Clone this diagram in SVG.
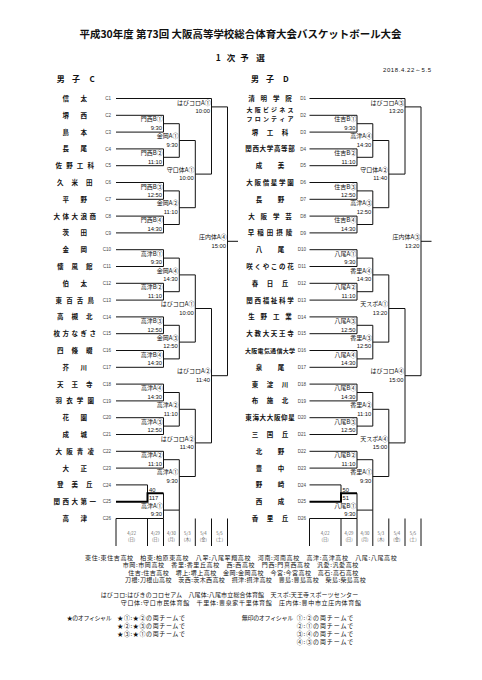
<svg xmlns="http://www.w3.org/2000/svg" width="482" height="680" viewBox="0 0 482 680">
<style>
text{font-family:"Noto Sans CJK JP","Noto Sans CJK SC",sans-serif;fill:#111}
.ttl{font-size:10.5px;font-weight:bold;text-anchor:middle}
.sub{font-size:8.5px;font-weight:bold;text-anchor:middle}
.hd{font-size:8px;font-weight:bold;text-anchor:middle}
.nm{font-size:6.5px;font-weight:bold;text-anchor:middle}
.nm6{font-size:6px;font-weight:bold;text-anchor:middle}
.cd{font-family:"Liberation Sans",sans-serif;font-size:4.5px;text-anchor:end;fill:#444}
.lb{font-size:6px;text-anchor:end}
.tm{font-family:"Liberation Sans",sans-serif;font-size:5.8px;text-anchor:end}
.sc{font-family:"Liberation Sans",sans-serif;font-size:5.8px}
.dt{font-size:4.3px;text-anchor:middle;fill:#666}
.lg{font-size:6px}
.ln{fill:none;stroke:#111;stroke-width:1}
.tk{fill:none;stroke:#000;stroke-width:2}
</style>
<rect width="482" height="680" fill="#fff"/>
<text class="ttl" x="240.5" y="38" textLength="322" lengthAdjust="spacingAndGlyphs">平成30年度 第73回 大阪高等学校総合体育大会バスケットボール大会</text>
<text class="sub" x="218.3 231 244.5 260.5" y="60.5">1次予選</text>
<text style="font-family:'Liberation Sans',sans-serif;font-size:6px" x="383" y="72" textLength="48">2018.4.22～5.5</text>
<text class="hd" x="60.7 76 92.2" y="81.5">男子C</text>
<text class="hd" x="255 270 285.8" y="81.5">男子D</text>

<g id="connectors">
<g id="conn-C">
<path class="ln" d="M116 98.5H211.5M116 115.3H163.5M116 132.1H163.5M116 148.9H163.5M116 165.7H163.5M116 182.5H163.5M116 199.3H163.5M116 216.1H163.5M116 232.9H163.5M116 249.7H163.5M116 266.5H163.5M116 283.3H163.5M116 300.1H163.5M116 316.9H163.5M116 333.7H163.5M116 350.5H163.5M116 367.3H163.5M116 384.1H163.5M116 400.9H163.5M116 417.7H163.5M116 434.5H163.5M116 451.3H163.5M116 468.1H163.5M116 484.9H147.5M116 518.5H163.5
M147.5 484.9V493.3
M163.5 115.3V132.1M163.5 148.9V165.7M163.5 182.5V199.3M163.5 216.1V232.9M163.5 249.7V266.5M163.5 283.3V300.1M163.5 316.9V333.7M163.5 350.5V367.3M163.5 384.1V400.9M163.5 417.7V434.5M163.5 451.3V468.1M163.5 493.3V518.5
M163.5 123.7H179.3M163.5 157.3H179.3M163.5 190.9H179.3M163.5 224.5H179.3M163.5 258.1H179.3M163.5 291.7H179.3M163.5 325.3H179.3M163.5 358.9H179.3M163.5 392.5H179.3M163.5 426.1H179.3M163.5 459.7H179.3M163.5 510.1H179.3
M179.3 123.7V157.3M179.3 190.9V224.5M179.3 258.1V291.7M179.3 325.3V358.9M179.3 392.5V426.1M179.3 459.7V510.1
M179.3 140.5H195.3M179.3 207.7H195.3M179.3 274.9H195.3M179.3 342.1H195.3M179.3 409.3H195.3M179.3 476.5H195.3
M195.3 140.5V207.7M195.3 274.9V342.1M195.3 409.3V476.5
M195.3 174.1H211.5M195.3 308.5H211.5M195.3 442.9H211.5
M211.5 98.5V174.1M211.5 308.5V442.9
M211.5 106.9H227.5M211.5 375.7H227.5
M227.5 106.9V375.7M227.5 241.3H238
M116 518.5V546M147.5 518.5V546M163.5 518.5V546M179.3 510.1V546M195.3 518.5V546M211.5 518.5V546M227.5 518.5V546"/>
<path class="tk" d="M116 501.7H147.5V493.3H163.5"/>
</g>
<g id="conn-D" transform="translate(193.5 0)">
<path class="ln" d="M116 98.5H211.5M116 115.3H163.5M116 132.1H163.5M116 148.9H163.5M116 165.7H163.5M116 182.5H163.5M116 199.3H163.5M116 216.1H163.5M116 232.9H163.5M116 249.7H163.5M116 266.5H163.5M116 283.3H163.5M116 300.1H163.5M116 316.9H163.5M116 333.7H163.5M116 350.5H163.5M116 367.3H163.5M116 384.1H163.5M116 400.9H163.5M116 417.7H163.5M116 434.5H163.5M116 451.3H163.5M116 468.1H163.5M116 484.9H147.5M116 518.5H163.5
M147.5 484.9V493.3
M163.5 115.3V132.1M163.5 148.9V165.7M163.5 182.5V199.3M163.5 216.1V232.9M163.5 249.7V266.5M163.5 283.3V300.1M163.5 316.9V333.7M163.5 350.5V367.3M163.5 384.1V400.9M163.5 417.7V434.5M163.5 451.3V468.1M163.5 493.3V518.5
M163.5 123.7H179.3M163.5 157.3H179.3M163.5 190.9H179.3M163.5 224.5H179.3M163.5 258.1H179.3M163.5 291.7H179.3M163.5 325.3H179.3M163.5 358.9H179.3M163.5 392.5H179.3M163.5 426.1H179.3M163.5 459.7H179.3M163.5 510.1H179.3
M179.3 123.7V157.3M179.3 190.9V224.5M179.3 258.1V291.7M179.3 325.3V358.9M179.3 392.5V426.1M179.3 459.7V510.1
M179.3 140.5H195.3M179.3 207.7H195.3M179.3 274.9H195.3M179.3 342.1H195.3M179.3 409.3H195.3M179.3 476.5H195.3
M195.3 140.5V207.7M195.3 274.9V342.1M195.3 409.3V476.5
M195.3 174.1H211.5M195.3 308.5H211.5M195.3 442.9H211.5
M211.5 98.5V174.1M211.5 308.5V442.9
M211.5 106.9H227.5M211.5 375.7H227.5
M227.5 106.9V375.7M227.5 241.3H238
M116 518.5V546M147.5 518.5V546M163.5 518.5V546M179.3 510.1V546M195.3 518.5V546M211.5 518.5V546M227.5 518.5V546"/>
<path class="tk" d="M116 501.7H147.5V493.3H163.5"/>
</g>
</g>

<g id="teams-C">
<g id="C1"><text class="nm" x="65.7 83.7" y="100.9">信太</text><text class="cd" x="111" y="100.1">C1</text></g>
<g id="C2"><text class="nm" x="65.7 83.7" y="117.7">堺西</text><text class="cd" x="111" y="116.9">C2</text></g>
<g id="C3"><text class="nm" x="65.7 83.7" y="134.5">島本</text><text class="cd" x="111" y="133.7">C3</text></g>
<g id="C4"><text class="nm" x="65.7 83.7" y="151.3">長尾</text><text class="cd" x="111" y="150.5">C4</text></g>
<g id="C5"><text class="nm" x="58.7 69.4 80 90.7" y="168.1">佐野工科</text><text class="cd" x="111" y="167.3">C5</text></g>
<g id="C6"><text class="nm" x="60.2 74.7 89.2" y="184.9">久米田</text><text class="cd" x="111" y="184.1">C6</text></g>
<g id="C7"><text class="nm" x="65.7 83.7" y="201.7">平野</text><text class="cd" x="111" y="200.9">C7</text></g>
<g id="C8"><text class="nm" x="56.7 65.7 74.7 83.7 92.7" y="218.5">大体大浪商</text><text class="cd" x="111" y="217.7">C8</text></g>
<g id="C9"><text class="nm" x="65.7 83.7" y="235.3">茨田</text><text class="cd" x="111" y="234.5">C9</text></g>
<g id="C10"><text class="nm" x="65.7 83.7" y="252.1">金岡</text><text class="cd" x="111" y="251.3">C10</text></g>
<g id="C11"><text class="nm" x="60.2 74.7 89.2" y="268.9">懐風館</text><text class="cd" x="111" y="268.1">C11</text></g>
<g id="C12"><text class="nm" x="65.7 83.7" y="285.7">伯太</text><text class="cd" x="111" y="284.9">C12</text></g>
<g id="C13"><text class="nm" x="58.7 69.4 80 90.7" y="302.5">東百舌鳥</text><text class="cd" x="111" y="301.7">C13</text></g>
<g id="C14"><text class="nm" x="60.2 74.7 89.2" y="319.3">高槻北</text><text class="cd" x="111" y="318.5">C14</text></g>
<g id="C15"><text class="nm" x="56.7 65.7 74.7 83.7 92.7" y="336.1">枚方なぎさ</text><text class="cd" x="111" y="335.3">C15</text></g>
<g id="C16"><text class="nm" x="60.2 74.7 89.2" y="352.9">四條畷</text><text class="cd" x="111" y="352.1">C16</text></g>
<g id="C17"><text class="nm" x="65.7 83.7" y="369.7">芥川</text><text class="cd" x="111" y="368.9">C17</text></g>
<g id="C18"><text class="nm" x="60.2 74.7 89.2" y="386.5">天王寺</text><text class="cd" x="111" y="385.7">C18</text></g>
<g id="C19"><text class="nm" x="58.7 69.4 80 90.7" y="403.3">羽衣学園</text><text class="cd" x="111" y="402.5">C19</text></g>
<g id="C20"><text class="nm" x="65.7 83.7" y="420.1">花園</text><text class="cd" x="111" y="419.3">C20</text></g>
<g id="C21"><text class="nm" x="65.7 83.7" y="436.9">成城</text><text class="cd" x="111" y="436.1">C21</text></g>
<g id="C22"><text class="nm" x="58.7 69.4 80 90.7" y="453.7">大阪青凌</text><text class="cd" x="111" y="452.9">C22</text></g>
<g id="C23"><text class="nm" x="65.7 83.7" y="470.5">大正</text><text class="cd" x="111" y="469.7">C23</text></g>
<g id="C24"><text class="nm" x="60.2 74.7 89.2" y="487.3">登美丘</text><text class="cd" x="111" y="486.5">C24</text></g>
<g id="C25"><text class="nm" x="56.7 65.7 74.7 83.7 92.7" y="504.1">関西大第一</text><text class="cd" x="111" y="503.3">C25</text></g>
<g id="C26"><text class="nm" x="65.7 83.7" y="520.9">高津</text><text class="cd" x="111" y="520.1">C26</text></g>
</g>

<g id="teams-D">
<g id="D1"><text class="nm" x="251.5 263.8 276.2 288.5" y="100.9">清明学院</text><text class="cd" x="306" y="100.1">D1</text></g>
<g id="D2"><text class="nm6" x="249.5 257.7 265.9 274.1 282.3 290.5" y="112.4">大阪ビジネス</text><text class="nm6" x="249.5 257.7 265.9 274.1 282.3 290.5" y="120.7">フロンティア</text><text class="cd" x="306" y="116.9">D2</text></g>
<g id="D3"><text class="nm" x="255 270 285" y="134.5">堺工科</text><text class="cd" x="306" y="133.7">D3</text></g>
<g id="D4"><text class="nm" x="248.5 255.7 262.8 270 277.2 284.3 291.5" y="151.3">関西大学高等部</text><text class="cd" x="306" y="150.5">D4</text></g>
<g id="D5"><text class="nm" x="259 281" y="168.1">成美</text><text class="cd" x="306" y="167.3">D5</text></g>
<g id="D6"><text class="nm" x="249.5 257.7 265.9 274.1 282.3 290.5" y="184.9">大阪偕星学園</text><text class="cd" x="306" y="184.1">D6</text></g>
<g id="D7"><text class="nm" x="259 281" y="201.7">長野</text><text class="cd" x="306" y="200.9">D7</text></g>
<g id="D8"><text class="nm" x="251.5 263.8 276.2 288.5" y="218.5">大阪学芸</text><text class="cd" x="306" y="217.7">D8</text></g>
<g id="D9"><text class="nm" x="251 260.5 270 279.5 289" y="235.3">早稲田摂陵</text><text class="cd" x="306" y="234.5">D9</text></g>
<g id="D10"><text class="nm" x="259 281" y="252.1">八尾</text><text class="cd" x="306" y="251.3">D10</text></g>
<g id="D11"><text class="nm" x="249.5 257.7 265.9 274.1 282.3 290.5" y="268.9">咲くやこの花</text><text class="cd" x="306" y="268.1">D11</text></g>
<g id="D12"><text class="nm" x="255 270 285" y="285.7">春日丘</text><text class="cd" x="306" y="284.9">D12</text></g>
<g id="D13"><text class="nm" x="249.5 257.7 265.9 274.1 282.3 290.5" y="302.5">関西福祉科学</text><text class="cd" x="306" y="301.7">D13</text></g>
<g id="D14"><text class="nm" x="251.5 263.8 276.2 288.5" y="319.3">生野工業</text><text class="cd" x="306" y="318.5">D14</text></g>
<g id="D15"><text class="nm" x="249.5 257.7 265.9 274.1 282.3 290.5" y="336.1">大教大天王寺</text><text class="cd" x="306" y="335.3">D15</text></g>
<g id="D16"><text class="nm6" x="248 254.3 260.6 266.9 273.1 279.4 285.7 292" y="352.9">大阪電気通信大学</text><text class="cd" x="306" y="352.1">D16</text></g>
<g id="D17"><text class="nm" x="259 281" y="369.7">泉尾</text><text class="cd" x="306" y="368.9">D17</text></g>
<g id="D18"><text class="nm" x="255 270 285" y="386.5">東淀川</text><text class="cd" x="306" y="385.7">D18</text></g>
<g id="D19"><text class="nm" x="255 270 285" y="403.3">布施北</text><text class="cd" x="306" y="402.5">D19</text></g>
<g id="D20"><text class="nm" x="248.5 255.7 262.8 270 277.2 284.3 291.5" y="420.1">東海大大阪仰星</text><text class="cd" x="306" y="419.3">D20</text></g>
<g id="D21"><text class="nm" x="255 270 285" y="436.9">三国丘</text><text class="cd" x="306" y="436.1">D21</text></g>
<g id="D22"><text class="nm" x="259 281" y="453.7">北野</text><text class="cd" x="306" y="452.9">D22</text></g>
<g id="D23"><text class="nm" x="259 281" y="470.5">豊中</text><text class="cd" x="306" y="469.7">D23</text></g>
<g id="D24"><text class="nm" x="259 281" y="487.3">野崎</text><text class="cd" x="306" y="486.5">D24</text></g>
<g id="D25"><text class="nm" x="259 281" y="504.1">西成</text><text class="cd" x="306" y="503.3">D25</text></g>
<g id="D26"><text class="nm" x="255 270 285" y="520.9">香里丘</text><text class="cd" x="306" y="520.1">D26</text></g>
</g>

<g id="matches-C">
<g id="mC1"><text class="lb" x="162.7" y="121.4">門西B①</text><text class="tm" x="162" y="130">9:30</text></g>
<g id="mC2"><text class="lb" x="162.7" y="155">門西B②</text><text class="tm" x="162" y="163.6">11:10</text></g>
<g id="mC3"><text class="lb" x="162.7" y="188.6">門西B③</text><text class="tm" x="162" y="197.2">12:50</text></g>
<g id="mC4"><text class="lb" x="162.7" y="222.2">門西B④</text><text class="tm" x="162" y="230.8">14:30</text></g>
<g id="mC5"><text class="lb" x="162.7" y="255.8">高津B①</text><text class="tm" x="162" y="264.4">9:30</text></g>
<g id="mC6"><text class="lb" x="162.7" y="289.4">高津B②</text><text class="tm" x="162" y="298">11:10</text></g>
<g id="mC7"><text class="lb" x="162.7" y="323">高津B③</text><text class="tm" x="162" y="331.6">12:50</text></g>
<g id="mC8"><text class="lb" x="162.7" y="356.6">高津B④</text><text class="tm" x="162" y="365.2">14:30</text></g>
<g id="mC9"><text class="lb" x="162.7" y="390.2">高津A④</text><text class="tm" x="162" y="398.8">14:30</text></g>
<g id="mC10"><text class="lb" x="162.7" y="423.8">高津A③</text><text class="tm" x="162" y="432.4">12:50</text></g>
<g id="mC11"><text class="lb" x="162.7" y="457.4">高津A②</text><text class="tm" x="162" y="466">11:10</text></g>
<g id="mC12"><text class="sc" x="149" y="491.5">40</text><text class="sc" x="149" y="500.2">117</text></g>
<g id="mC13"><text class="lb" x="162.7" y="507.8">高津A①</text><text class="tm" x="162" y="516.4">9:30</text></g>
<g id="mC14"><text class="lb" x="178.5" y="138.2">金岡A①</text><text class="tm" x="177.8" y="146.8">9:30</text></g>
<g id="mC15"><text class="lb" x="178.5" y="205.4">金岡A②</text><text class="tm" x="177.8" y="214">11:10</text></g>
<g id="mC16"><text class="lb" x="178.5" y="272.6">金岡A④</text><text class="tm" x="177.8" y="281.2">14:30</text></g>
<g id="mC17"><text class="lb" x="178.5" y="339.8">金岡A③</text><text class="tm" x="177.8" y="348.4">12:50</text></g>
<g id="mC18"><text class="lb" x="178.5" y="407">高津A②</text><text class="tm" x="177.8" y="415.6">11:10</text></g>
<g id="mC19"><text class="lb" x="178.5" y="474.2">高津A①</text><text class="tm" x="177.8" y="482.8">9:30</text></g>
<g id="mC20"><text class="lb" x="194.5" y="171.8">守口体A①</text><text class="tm" x="193.8" y="180.4">10:00</text></g>
<g id="mC21"><text class="lb" x="194.5" y="306.2">はびコロA①</text><text class="tm" x="193.8" y="314.8">10:00</text></g>
<g id="mC22"><text class="lb" x="194.5" y="440.6">はびコロA②</text><text class="tm" x="193.8" y="449.2">11:40</text></g>
<g id="mC23"><text class="lb" x="210.7" y="104.6">はびコロA①</text><text class="tm" x="210" y="113.2">10:00</text></g>
<g id="mC24"><text class="lb" x="210.7" y="373.4">はびコロA②</text><text class="tm" x="210" y="382">11:40</text></g>
<g id="mC25"><text class="lb" x="226.7" y="239">庄内体A④</text><text class="tm" x="226" y="247.6">15:00</text></g>
</g>

<g id="matches-D">
<g id="mD1"><text class="lb" x="356.2" y="121.4">住吉B①</text><text class="tm" x="355.5" y="130">9:30</text></g>
<g id="mD2"><text class="lb" x="356.2" y="155">住吉B②</text><text class="tm" x="355.5" y="163.6">11:10</text></g>
<g id="mD3"><text class="lb" x="356.2" y="188.6">住吉B③</text><text class="tm" x="355.5" y="197.2">12:50</text></g>
<g id="mD4"><text class="lb" x="356.2" y="222.2">住吉B④</text><text class="tm" x="355.5" y="230.8">14:30</text></g>
<g id="mD5"><text class="lb" x="356.2" y="255.8">八尾A①</text><text class="tm" x="355.5" y="264.4">9:30</text></g>
<g id="mD6"><text class="lb" x="356.2" y="289.4">八尾A②</text><text class="tm" x="355.5" y="298">11:10</text></g>
<g id="mD7"><text class="lb" x="356.2" y="323">八尾A③</text><text class="tm" x="355.5" y="331.6">12:50</text></g>
<g id="mD8"><text class="lb" x="356.2" y="356.6">八尾A④</text><text class="tm" x="355.5" y="365.2">14:30</text></g>
<g id="mD9"><text class="lb" x="356.2" y="390.2">八尾B④</text><text class="tm" x="355.5" y="398.8">14:30</text></g>
<g id="mD10"><text class="lb" x="356.2" y="423.8">八尾B③</text><text class="tm" x="355.5" y="432.4">12:50</text></g>
<g id="mD11"><text class="lb" x="356.2" y="457.4">八尾B②</text><text class="tm" x="355.5" y="466">11:10</text></g>
<g id="mD12"><text class="sc" x="342.5" y="491.5">50</text><text class="sc" x="342.5" y="500.2">51</text></g>
<g id="mD13"><text class="lb" x="356.2" y="507.8">八尾B①</text><text class="tm" x="355.5" y="516.4">9:30</text></g>
<g id="mD14"><text class="lb" x="372" y="138.2">高津A④</text><text class="tm" x="371.3" y="146.8">14:30</text></g>
<g id="mD15"><text class="lb" x="372" y="205.4">高津A③</text><text class="tm" x="371.3" y="214">12:50</text></g>
<g id="mD16"><text class="lb" x="372" y="272.6">香里A④</text><text class="tm" x="371.3" y="281.2">14:30</text></g>
<g id="mD17"><text class="lb" x="372" y="339.8">香里A③</text><text class="tm" x="371.3" y="348.4">12:50</text></g>
<g id="mD18"><text class="lb" x="372" y="407">香里A②</text><text class="tm" x="371.3" y="415.6">11:10</text></g>
<g id="mD19"><text class="lb" x="372" y="474.2">香里A①</text><text class="tm" x="371.3" y="482.8">9:30</text></g>
<g id="mD20"><text class="lb" x="388" y="171.8">守口体A②</text><text class="tm" x="387.3" y="180.4">11:40</text></g>
<g id="mD21"><text class="lb" x="388" y="306.2">天スポA①</text><text class="tm" x="387.3" y="314.8">13:20</text></g>
<g id="mD22"><text class="lb" x="388" y="440.6">天スポA④</text><text class="tm" x="387.3" y="449.2">15:00</text></g>
<g id="mD23"><text class="lb" x="404.2" y="104.6">はびコロA③</text><text class="tm" x="403.5" y="113.2">13:20</text></g>
<g id="mD24"><text class="lb" x="404.2" y="373.4">はびコロA④</text><text class="tm" x="403.5" y="382">15:00</text></g>
<g id="mD25"><text class="lb" x="420.2" y="239">庄内体A③</text><text class="tm" x="419.5" y="247.6">13:20</text></g>
</g>

<g id="dates">
<text class="dt" x="131.7" y="535">4/22</text><text class="dt" x="131.7" y="540.6">(日)</text>
<text class="dt" x="155.5" y="535">4/29</text><text class="dt" x="155.5" y="540.6">(日)</text>
<text class="dt" x="171.4" y="535">4/30</text><text class="dt" x="171.4" y="540.6">(月)</text>
<text class="dt" x="187.3" y="535">5/3</text><text class="dt" x="187.3" y="540.6">(木)</text>
<text class="dt" x="203.4" y="535">5/4</text><text class="dt" x="203.4" y="540.6">(金)</text>
<text class="dt" x="219.5" y="535">5/5</text><text class="dt" x="219.5" y="540.6">(土)</text>
<text class="dt" x="325.2" y="535">4/22</text><text class="dt" x="325.2" y="540.6">(日)</text>
<text class="dt" x="349" y="535">4/29</text><text class="dt" x="349" y="540.6">(日)</text>
<text class="dt" x="364.9" y="535">4/30</text><text class="dt" x="364.9" y="540.6">(月)</text>
<text class="dt" x="380.8" y="535">5/3</text><text class="dt" x="380.8" y="540.6">(木)</text>
<text class="dt" x="396.9" y="535">5/4</text><text class="dt" x="396.9" y="540.6">(金)</text>
<text class="dt" x="413" y="535">5/5</text><text class="dt" x="413" y="540.6">(土)</text>
</g>

<g id="legend">
<text class="lg" x="85" y="559.6" textLength="311.7">東住:東住吉高校　柏東:柏原東高校　八翠:八尾翠翔高校　河南:河南高校　高津:高津高校　八尾:八尾高校</text>
<text class="lg" x="122.7" y="567.1" textLength="235.6">市岡:市岡高校　香里:香里丘高校　西:西高校　門西:門真西高校　汎愛:汎愛高校</text>
<text class="lg" x="128.3" y="574.6" textLength="230">住吉:住吉高校　堺上:堺上高校　金岡:金岡高校　今宮:今宮高校　高石:高石高校</text>
<text class="lg" x="125" y="582.1" textLength="240.7">刀根:刀根山高校　茨西:茨木西高校　摂津:摂津高校　豊島:豊島高校　柴島:柴島高校</text>
<text class="lg" x="100.7" y="597.3" textLength="257.6">はびコロ:はびきのコロセアム　八尾体:八尾市立総合体育館　天スポ:天王寺スポーツセンター</text>
<text class="lg" x="120.7" y="605" textLength="240.3">守口体:守口市民体育館　千里体:豊泉家千里体育館　庄内体:豊中市立庄内体育館</text>
<text class="lg" x="66.7" y="620" textLength="45">★のオフィシャル</text>
<text class="lg" x="117.3" y="620" textLength="67.7">★①:★②の両チームで</text>
<text class="lg" x="117.3" y="628.3" textLength="67.7">★②:★③の両チームで</text>
<text class="lg" x="117.3" y="636.3" textLength="67.7">★③:★①の両チームで</text>
<text class="lg" x="241.7" y="620" textLength="51.6">無印のオフィシャル</text>
<text class="lg" x="296.7" y="620" textLength="56.6">①:②の両チームで</text>
<text class="lg" x="296.7" y="628.3" textLength="56.6">②:①の両チームで</text>
<text class="lg" x="296.7" y="636.3" textLength="56.6">③:④の両チームで</text>
<text class="lg" x="296.7" y="644.3" textLength="56.6">④:③の両チームで</text>
</g>
</svg>
